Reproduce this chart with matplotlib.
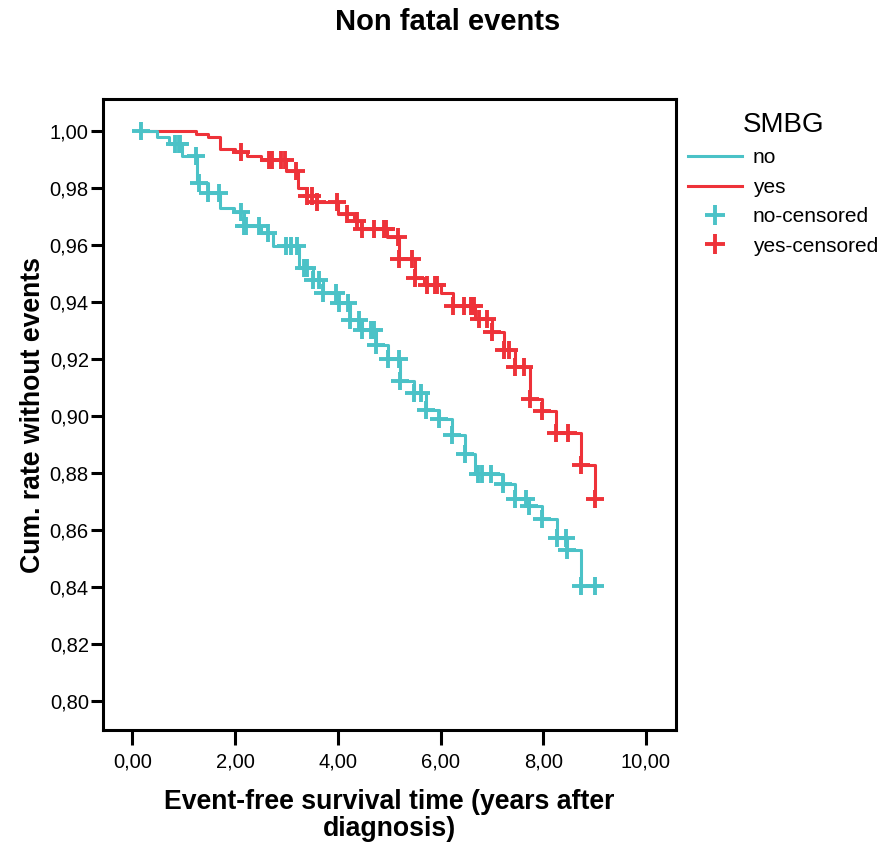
import numpy as np
import matplotlib.pyplot as plt
from matplotlib.lines import Line2D

plt.rcParams['font.family'] = ['Liberation Sans', 'DejaVu Sans']

# Kaplan-Meier steps: time of each event and survival after it
no_event_t = [0.48, 0.72, 0.97, 1.25, 1.48, 1.71, 1.98, 2.18, 2.51, 2.73, 3.25, 3.51,
              3.72, 3.97, 4.24, 4.48, 4.75, 4.97, 5.21, 5.49, 5.71, 5.97, 6.23, 6.47,
              6.67, 7.22, 7.46, 7.72, 7.98, 8.26, 8.47, 8.73]
no_surv = [0.9977, 0.9953, 0.9910, 0.9818, 0.9783, 0.9728, 0.9716, 0.9666, 0.9642,
           0.9595, 0.9517, 0.9477, 0.9431, 0.9396, 0.9337, 0.9300, 0.9247, 0.9199,
           0.9120, 0.9079, 0.9020, 0.8990, 0.8932, 0.8866, 0.8796, 0.8759, 0.8706,
           0.8683, 0.8636, 0.8570, 0.8530, 0.8404]
no_censored = [0.17, 0.82, 0.90, 0.93, 1.24, 1.30, 1.48, 1.68, 2.11, 2.18, 2.21, 2.47,
               2.63, 2.99, 3.09, 3.21, 3.35, 3.40, 3.51, 3.64, 3.72, 3.96, 4.03, 4.19,
               4.24, 4.42, 4.48, 4.64, 4.71, 4.75, 4.97, 5.19, 5.21, 5.49, 5.62, 5.71,
               5.97, 6.23, 6.47, 6.72, 6.81, 6.98, 7.22, 7.46, 7.66, 7.72, 7.98, 8.26,
               8.45, 8.47, 8.73, 9.01]

yes_event_t = [1.24, 1.48, 1.70, 2.00, 2.23, 2.50, 2.99, 3.23, 3.40, 3.60, 4.00, 4.32,
               4.45, 4.96, 5.20, 5.50, 5.68, 6.00, 6.25, 6.67, 7.00, 7.24, 7.46, 7.74,
               7.98, 8.24, 8.73, 9.00]
yes_surv = [0.9988, 0.9979, 0.9935, 0.9925, 0.9910, 0.9897, 0.9857, 0.9800, 0.9770,
            0.9751, 0.9707, 0.9683, 0.9654, 0.9628, 0.9550, 0.9484, 0.9457, 0.9431,
            0.9384, 0.9340, 0.9294, 0.9230, 0.9170, 0.9058, 0.9017, 0.8938, 0.8827,
            0.8707]
yes_censored = [2.11, 2.65, 2.72, 2.89, 2.97, 3.19, 3.40, 3.49, 3.60, 3.99, 4.18, 4.38,
                4.47, 4.71, 4.90, 4.94, 5.17, 5.20, 5.45, 5.50, 5.74, 5.89, 5.94, 6.25,
                6.46, 6.60, 6.65, 6.75, 6.91, 7.00, 7.24, 7.33, 7.46, 7.63, 7.74, 7.98,
                8.24, 8.49, 8.73, 9.00]

t_start = 0.17
t_end = {'no': 9.01, 'yes': 9.00}

cyan = '#4BC2C7'
red = '#EE3239'


def km_curve(event_t, surv, end):
    t = np.concatenate([[t_start], event_t, [end]])
    s = np.concatenate([[1.0], surv, [surv[-1]]])
    return t, s


def level_at(event_t, surv, times):
    idx = np.searchsorted(event_t, times, side='right')
    s = np.concatenate([[1.0], surv])
    return s[idx]


fig = plt.figure(figsize=(8.9, 8.43), dpi=100)
ax = fig.add_axes([0.1154, 0.134, 0.6438, 0.7482])

for ev, sv, cens, col, key in [(yes_event_t, yes_surv, yes_censored, red, 'yes'),
                               (no_event_t, no_surv, no_censored, cyan, 'no')]:
    t, s = km_curve(ev, sv, t_end[key])
    ax.step(t, s, where='post', color=col, lw=2.2)
    ax.plot(cens, level_at(ev, sv, cens), ls='none', marker='+', ms=13,
            mew=2.8, color=col)

ax.set_xlim(-0.58, 10.58)
ax.set_ylim(0.7897, 1.011)
ax.set_xticks(np.arange(0, 10.01, 2))
ax.set_yticks(np.arange(0.80, 1.001, 0.02))
ax.set_xticklabels([f'{v:.2f}'.replace('.', ',') for v in np.arange(0, 10.01, 2)])
ax.set_yticklabels([f'{v:.2f}'.replace('.', ',') for v in np.arange(0.80, 1.001, 0.02)])
ax.tick_params(axis='x', direction='out', length=10.5, width=2.2, labelsize=14.5, pad=6)
ax.tick_params(axis='y', direction='out', length=9, width=2.2, labelsize=14.5, pad=1)
for sp in ax.spines.values():
    sp.set_linewidth(2.2)

ax.set_xlabel('Event-free survival time (years after\ndiagnosis)', fontsize=19.2,
              fontweight='bold', labelpad=12, linespacing=1.08)
ax.set_ylabel('Cum. rate without events', fontsize=19.2, fontweight='bold', labelpad=3)
fig.text(0.503, 0.99, 'Non fatal events', ha='center', va='top', fontsize=21,
         fontweight='bold')

handles = [Line2D([], [], color=cyan, lw=2.2),
           Line2D([], [], color=red, lw=2.2),
           Line2D([], [], color=cyan, ls='none', marker='+', ms=15, mew=2.8),
           Line2D([], [], color=red, ls='none', marker='+', ms=15, mew=2.8)]
leg = fig.legend(handles, ['no', 'yes', 'no-censored', 'yes-censored'],
                 loc='upper left', bbox_to_anchor=(0.764, 0.877), frameon=False,
                 fontsize=15, title='SMBG', title_fontsize=20, handlelength=2.6,
                 handletextpad=0.5, labelspacing=0.5, borderaxespad=0)
fig.savefig('out.png', dpi=100)
